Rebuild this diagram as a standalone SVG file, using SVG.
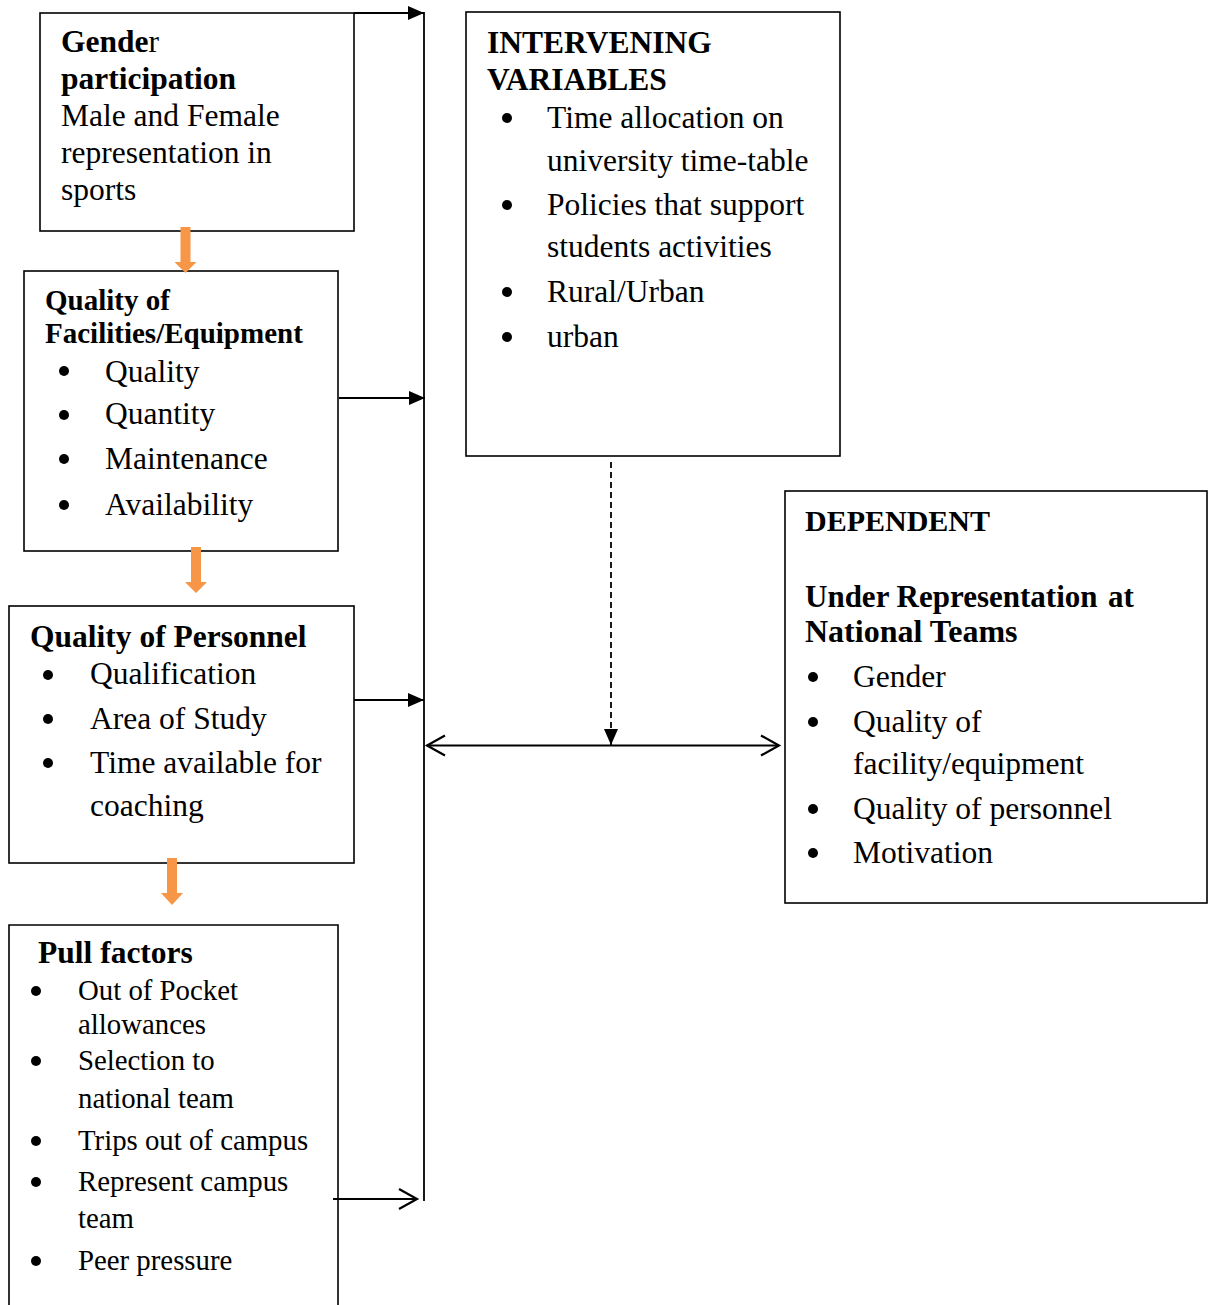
<svg xmlns="http://www.w3.org/2000/svg" width="1208" height="1305" viewBox="0 0 1208 1305">
<style>
.box{fill:#fff;stroke:#000;stroke-width:1.6}
text{font-family:"Liberation Serif","Times New Roman",serif;fill:#000}
.b{font-weight:bold}
.t{font-size:31.5px}
.s{font-size:29px}
.p{font-size:28.8px}
.bul{fill:#000}
.ln{stroke:#000;stroke-width:1.8;fill:none}
.or{fill:#F79646}
</style>
<defs>
<marker id="tri" markerUnits="userSpaceOnUse" markerWidth="16" markerHeight="14" refX="16" refY="7" orient="auto" overflow="visible"><path d="M0,0 L16,7 L0,14 z" fill="#000"/></marker>
<marker id="chev" markerUnits="userSpaceOnUse" markerWidth="22" markerHeight="24" refX="19" refY="11" orient="auto-start-reverse" overflow="visible"><path d="M1,1 L19,11 L1,21" fill="none" stroke="#000" stroke-width="2.2"/></marker>
</defs>
<rect width="1208" height="1305" fill="#fff"/>

<g id="gender">
<rect class="box" x="40" y="13" width="314" height="218"/>
<text class="t b" x="61" y="52">Gende<tspan font-weight="normal">r</tspan></text>
<text class="t b" x="61" y="89">participation</text>
<text class="t" x="61" y="126">Male and Female</text>
<text class="t" x="61" y="163">representation in</text>
<text class="t" x="61" y="200">sports</text>
</g>

<g id="facilities">
<rect class="box" x="24" y="271" width="314" height="280"/>
<text class="s b" x="45" y="310">Quality of</text>
<text class="s b" x="45" y="343">Facilities/Equipment</text>
<circle class="bul" cx="64" cy="371" r="5"/><text class="t" x="105" y="382">Quality</text>
<circle class="bul" cx="64" cy="415" r="5"/><text class="t" x="105" y="424">Quantity</text>
<circle class="bul" cx="64" cy="459" r="5"/><text class="t" x="105" y="469">Maintenance</text>
<circle class="bul" cx="64" cy="505" r="5"/><text class="t" x="105" y="515">Availability</text>
</g>

<g id="personnel">
<rect class="box" x="9" y="606" width="345" height="257"/>
<text class="t b" x="30" y="647">Quality of Personnel</text>
<circle class="bul" cx="48" cy="675" r="5"/><text class="t" x="90" y="684">Qualification</text>
<circle class="bul" cx="48" cy="719" r="5"/><text class="t" x="90" y="729">Area of Study</text>
<circle class="bul" cx="48" cy="763" r="5"/><text class="t" x="90" y="773">Time available for</text>
<text class="t" x="90" y="816">coaching</text>
</g>

<g id="pull">
<path class="box" d="M9,1306 V925 H338 V1306"/>
<text class="t b" x="38" y="963">Pull factors</text>
<circle class="bul" cx="36" cy="991" r="5"/><text class="p" x="78" y="1000">Out of Pocket</text>
<text class="p" x="78" y="1034">allowances</text>
<circle class="bul" cx="36" cy="1061" r="5"/><text class="p" x="78" y="1070">Selection to</text>
<text class="p" x="78" y="1108">national team</text>
<circle class="bul" cx="36" cy="1141" r="5"/><text class="p" x="78" y="1150">Trips out of campus</text>
<circle class="bul" cx="36" cy="1182" r="5"/><text class="p" x="78" y="1191">Represent campus</text>
<text class="p" x="78" y="1228">team</text>
<circle class="bul" cx="36" cy="1261" r="5"/><text class="p" x="78" y="1270">Peer pressure</text>
</g>

<g id="intervening">
<rect class="box" x="466" y="12" width="374" height="444"/>
<text class="t b" x="487" y="53">INTERVENING</text>
<text class="t b" x="487" y="90">VARIABLES</text>
<circle class="bul" cx="507" cy="118" r="5"/><text class="t" x="547" y="128">Time allocation on</text>
<text class="t" x="547" y="171">university time-table</text>
<circle class="bul" cx="507" cy="205" r="5"/><text class="t" x="547" y="215">Policies that support</text>
<text class="t" x="547" y="257">students activities</text>
<circle class="bul" cx="507" cy="292" r="5"/><text class="t" x="547" y="302">Rural/Urban</text>
<circle class="bul" cx="507" cy="337" r="5"/><text class="t" x="547" y="347">urban</text>
</g>

<g id="dependent">
<rect class="box" x="785" y="491" width="422" height="412"/>
<text class="b" font-size="30" x="805" y="531">DEPENDENT</text>
<text class="b" font-size="31" x="805" y="607">Under Representation<tspan x="1108">at</tspan></text>
<text class="b" font-size="32" x="805" y="642">National Teams</text>
<circle class="bul" cx="813" cy="677" r="5"/><text class="t" x="853" y="687">Gender</text>
<circle class="bul" cx="813" cy="722" r="5"/><text class="t" x="853" y="732">Quality of</text>
<text class="t" x="853" y="774">facility/equipment</text>
<circle class="bul" cx="813" cy="809" r="5"/><text class="t" x="853" y="819">Quality of personnel</text>
<circle class="bul" cx="813" cy="853" r="5"/><text class="t" x="853" y="863">Motivation</text>
</g>

<g id="connectors">
<line class="ln" x1="424" y1="12" x2="424" y2="1201" stroke-width="2"/>
<line class="ln" x1="354" y1="13" x2="424" y2="13" marker-end="url(#tri)"/>
<line class="ln" x1="339" y1="398" x2="425" y2="398" marker-end="url(#tri)"/>
<line class="ln" x1="354" y1="700" x2="424" y2="700" marker-end="url(#tri)"/>
<line class="ln" x1="333" y1="1199" x2="417" y2="1199" stroke-width="2" marker-end="url(#chev)"/>
<line class="ln" x1="427" y1="745.5" x2="779" y2="745.5" stroke-width="2.2" marker-start="url(#chev)" marker-end="url(#chev)"/>
<line class="ln" x1="611" y1="462" x2="611" y2="745" stroke-width="1.6" stroke-dasharray="6,4" marker-end="url(#tri)"/>
<polygon class="or" points="180.5,227 190.5,227 190.5,262 196.5,262 185.5,273 174.5,262 180.5,262"/>
<polygon class="or" points="191,547 201,547 201,582 207,582 196,593 185,582 191,582"/>
<polygon class="or" points="167,858 177,858 177,893 183,893 172,905 161,893 167,893"/>
</g>
</svg>
